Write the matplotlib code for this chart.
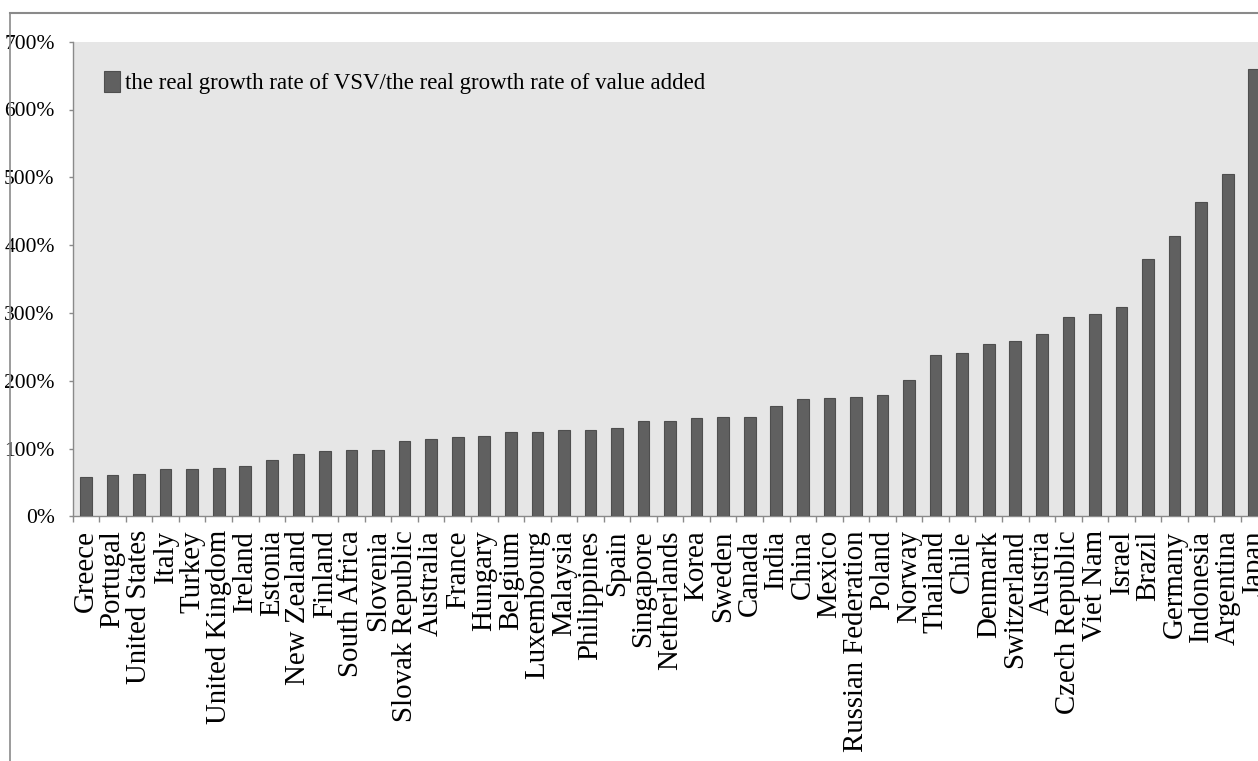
import matplotlib
matplotlib.use("Agg")
import matplotlib.pyplot as plt
from matplotlib.patches import Patch
from matplotlib.lines import Line2D
from matplotlib.ticker import FixedLocator, FuncFormatter

countries = [
    "Greece", "Portugal", "United States", "Italy", "Turkey", "United Kingdom",
    "Ireland", "Estonia", "New Zealand", "Finland", "South Africa", "Slovenia",
    "Slovak Republic", "Australia", "France", "Hungary", "Belgium", "Luxembourg",
    "Malaysia", "Philippines", "Spain", "Singapore", "Netherlands", "Korea",
    "Sweden", "Canada", "India", "China", "Mexico", "Russian Federation",
    "Poland", "Norway", "Thailand", "Chile", "Denmark", "Switzerland", "Austria",
    "Czech Republic", "Viet Nam", "Israel", "Brazil", "Germany", "Indonesia",
    "Argentina", "Japan",
]

# ratio of real VSV growth to real value-added growth, in percent
ratio_pct = [
    58.4, 60.5, 62.8, 69.3, 69.3, 71.7,
    73.7, 82.6, 91.9, 95.9, 98.2, 98.2,
    111.5, 114.0, 116.5, 118.4, 124.8, 124.8,
    127.3, 127.3, 129.8, 140.6, 140.6, 145.0,
    146.9, 146.9, 162.7, 173.5, 174.0, 176.4,
    178.5, 200.6, 238.3, 240.4, 253.7, 258.1, 269.3,
    293.5, 297.9, 309.1, 379.9, 413.0, 464.0,
    504.4, 659.7,
]

y_ticks = [0, 100, 200, 300, 400, 500, 600, 700]
legend_label = "the real growth rate of VSV/the real growth rate of value added"

W, H = 1258, 761
fig = plt.figure(figsize=(W / 100, H / 100), dpi=100)
fig.patch.set_facecolor("white")

serif = ["Liberation Serif", "DejaVu Serif"]
axis_grey = "#8a8a8a"

# plot area (extends slightly past the right edge of the canvas)
left_px, right_px = 72.7, 1267.5
top_px, bottom_px = 41.7, 516.3
ax = fig.add_axes([left_px / W, 1 - bottom_px / H,
                   (right_px - left_px) / W, (bottom_px - top_px) / H])
ax.set_facecolor("#e6e6e6")

x = list(range(len(countries)))
ax.bar(x, ratio_pct, width=0.44, color="#606060", edgecolor="#4e4e4e",
       linewidth=0.8, zorder=3)

ax.set_xlim(-0.5, len(countries) - 0.5)
ax.set_ylim(0, 700)

for side in ("top", "right"):
    ax.spines[side].set_visible(False)
for side in ("left", "bottom"):
    ax.spines[side].set_color(axis_grey)
    ax.spines[side].set_linewidth(1.0)

# y axis
ax.yaxis.set_major_locator(FixedLocator(y_ticks))
ax.yaxis.set_major_formatter(FuncFormatter(lambda v, p: f"{v:.0f}%"))
ax.tick_params(axis="y", which="major", direction="out", length=3,
               width=1, color=axis_grey, pad=10)
for lab in ax.get_yticklabels():
    lab.set_fontfamily(serif)
    lab.set_fontsize(15.5)
    lab.set_color("black")

# x axis: labels at category centres, tick marks at category boundaries
ax.set_xticks(x)
ax.set_xticklabels(countries, rotation=90, fontfamily=serif, fontsize=20.8,
                   color="black")
ax.tick_params(axis="x", which="major", length=0, pad=10)
ax.set_xticks([i - 0.5 for i in range(len(countries) + 1)], minor=True)
ax.tick_params(axis="x", which="minor", direction="out", length=4,
               width=1, color=axis_grey)

# legend
handle = Patch(facecolor="#606060", edgecolor="#4e4e4e", linewidth=0.8)
leg = ax.legend([handle], [legend_label], loc="upper left",
                bbox_to_anchor=(104 / W, 1 - 71 / H),
                bbox_transform=fig.transFigure, frameon=False,
                handlelength=0.7, handleheight=1.0, handletextpad=0.2,
                borderpad=0, borderaxespad=0,
                prop={"family": serif, "size": 16.5})

# chart-area border (left and top edges visible)
fig.add_artist(Line2D([9.5 / W, 9.5 / W], [0, 1 - 12.7 / H],
                      transform=fig.transFigure, color=axis_grey, lw=1.2))
fig.add_artist(Line2D([9.5 / W, 1.0], [1 - 12.7 / H, 1 - 12.7 / H],
                      transform=fig.transFigure, color=axis_grey, lw=1.5))

fig.savefig("out.png", dpi=100)
